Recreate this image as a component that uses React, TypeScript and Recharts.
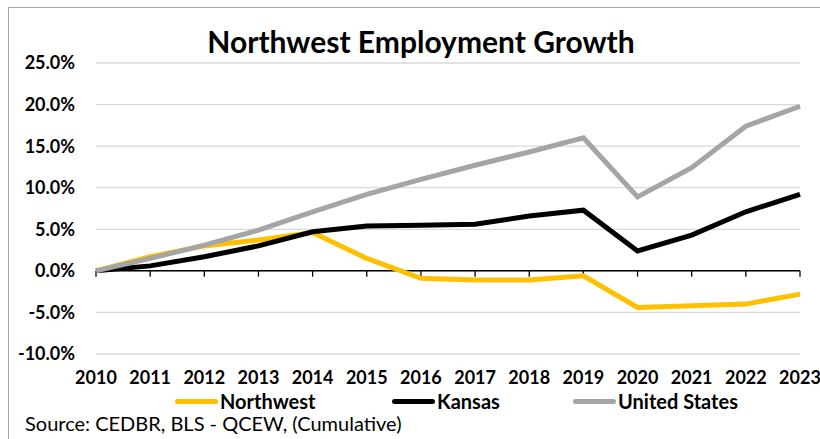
import { CartesianGrid, Line, LineChart, ReferenceLine, XAxis, YAxis } from 'recharts';

const years = ['2010', '2011', '2012', '2013', '2014', '2015', '2016', '2017', '2018', '2019', '2020', '2021', '2022', '2023'];
const northwest = [0, 1.7, 3.0, 3.7, 4.6, 1.5, -0.9, -1.1, -1.1, -0.6, -4.4, -4.2, -4.0, -2.8];
const kansas = [0, 0.6, 1.7, 3.0, 4.7, 5.4, 5.5, 5.6, 6.6, 7.3, 2.4, 4.3, 7.1, 9.2];
const unitedStates = [0, 1.5, 3.1, 4.9, 7.1, 9.2, 11.0, 12.7, 14.3, 16.0, 8.9, 12.4, 17.4, 19.8];
const yTicks = [-10, -5, 0, 5, 10, 15, 20, 25];

const GOLD = '#FFC000';
const BLACK = '#000000';
const GREY = '#A5A5A5';
const GRID = '#D9D9D9';
const FONT = 'Lato, "Open Sans", sans-serif';

const data = years.map((year, i) => ({
  year,
  northwest: northwest[i],
  kansas: kansas[i],
  us: unitedStates[i],
}));

const legendItems = [
  { label: 'Northwest', color: GOLD, left: 175 },
  { label: 'Kansas', color: BLACK, left: 392 },
  { label: 'United States', color: GREY, left: 573 },
];

// legend drawn outside the chart so it doesn't eat into the plot area
function ChartLegend() {
  return (
    <div style={{ position: 'absolute', left: 0, top: 389, width: 820, height: 26 }}>
      {legendItems.map((item) => (
        <div
          key={item.label}
          style={{ position: 'absolute', left: item.left, top: 0, display: 'flex', alignItems: 'center' }}
        >
          <span style={{ width: 43, height: 5, borderRadius: 3, background: item.color, display: 'inline-block' }} />
          <span style={{ fontFamily: FONT, fontWeight: 700, fontSize: 20, color: '#000', marginLeft: 2 }}>
            {item.label}
          </span>
        </div>
      ))}
    </div>
  );
}

export default function App() {
  return (
    <div style={{ position: 'absolute', left: 0, top: 0, width: 820, height: 439, overflow: 'hidden', background: '#fff' }}>
      <div style={{ position: 'absolute', left: 8, top: 7, width: 900, height: 600, border: '1px solid #A6A6A6' }} />
      <LineChart width={820} height={439} data={data} margin={{ top: 63, right: 20, bottom: 55, left: 0 }}>
        <CartesianGrid vertical={false} stroke={GRID} strokeWidth={1.3} />
        <XAxis
          dataKey="year"
          height={30}
          axisLine={false}
          tickLine={false}
          tickSize={0}
          tickMargin={17}
          interval={0}
          tick={{ fill: '#000', fontSize: 18, fontWeight: 700, fontFamily: FONT }}
        />
        <YAxis
          width={96}
          domain={[-10, 25]}
          ticks={yTicks}
          axisLine={false}
          tickLine={false}
          tickSize={0}
          tickMargin={21}
          tickFormatter={(v: number) => `${v.toFixed(1)}%`}
          tick={{ fill: '#000', fontSize: 18, fontWeight: 700, fontFamily: FONT }}
        />
        <ReferenceLine y={0} stroke={BLACK} strokeWidth={1.5} />
        {years.map((year) => (
          <ReferenceLine
            key={year}
            segment={[
              { x: year, y: 0 },
              { x: year, y: -0.7 },
            ]}
            stroke={BLACK}
            strokeWidth={1.3}
          />
        ))}
        <Line dataKey="northwest" name="Northwest" stroke={GOLD} strokeWidth={5} dot={false} isAnimationActive={false} />
        <Line dataKey="kansas" name="Kansas" stroke={BLACK} strokeWidth={5} dot={false} isAnimationActive={false} />
        <Line dataKey="us" name="United States" stroke={GREY} strokeWidth={5} dot={false} isAnimationActive={false} />
      </LineChart>
      <ChartLegend />
      <svg width={820} height={439} style={{ position: 'absolute', left: 0, top: 0, pointerEvents: 'none' }}>
        <text x={421} y={53} textAnchor="middle" fontFamily={FONT} fontWeight={700} fontSize={30} fill="#000">
          Northwest Employment Growth
        </text>
        <text x={25} y={431} fontFamily={FONT} fontSize={20} fill="#000">
          Source: CEDBR, BLS - QCEW, (Cumulative)
        </text>
      </svg>
    </div>
  );
}
